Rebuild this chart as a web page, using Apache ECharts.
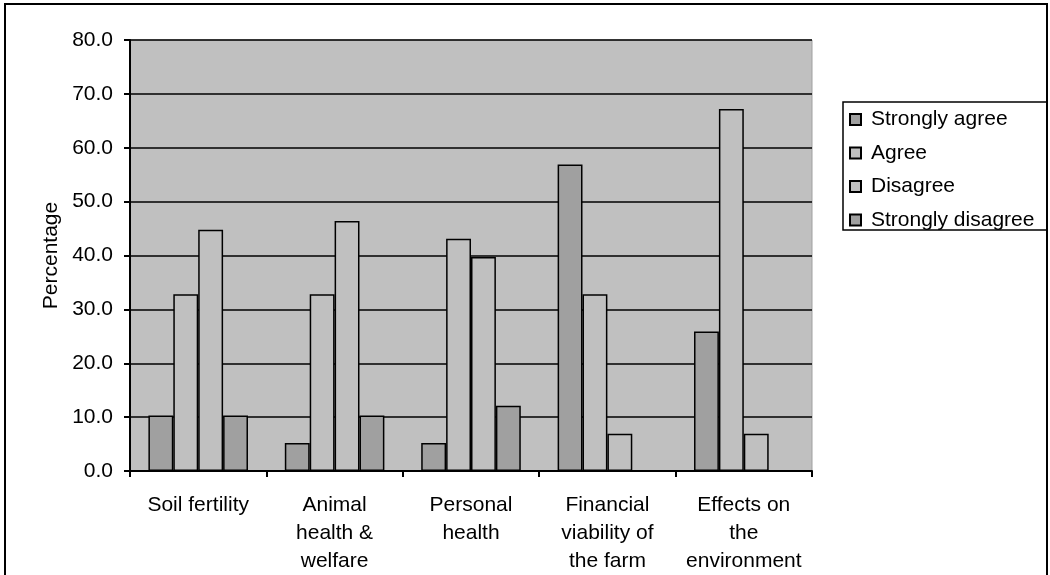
<!DOCTYPE html>
<html>
<head>
<meta charset="utf-8">
<script src="https://cdn.jsdelivr.net/npm/echarts@6/dist/echarts.min.js"></script>
<style>html,body{margin:0;padding:0;background:#fff}#c{width:1050px;height:575px}</style>
</head>
<body>
<div id="c"></div>
<script>
var categories = ['Soil fertility', 'Animal\nhealth &\nwelfare', 'Personal\nhealth', 'Financial\nviability of\nthe farm', 'Effects on\nthe\nenvironment'];
var seriesNames = ['Strongly agree', 'Agree', 'Disagree', 'Strongly disagree'];
var stronglyAgree = [10.3, 5.2, 5.2, 56.9, 25.9];
var agree = [32.8, 32.8, 43.1, 32.8, 67.2];
var disagree = [44.8, 46.4, 39.7, 6.9, 6.9];
var stronglyDisagree = [10.3, 10.3, 12.1, 0, 0];
var yTicks = {min: 0, max: 80, interval: 10};

var colors = ['#a0a0a0', '#c0c0c0', '#c0c0c0', '#a0a0a0'];
var dataArr = [stronglyAgree, agree, disagree, stronglyDisagree];
var chart = echarts.init(document.getElementById('c'), null, {renderer: 'canvas'});
var font = 'Liberation Sans, Arial, sans-serif';
var series = seriesNames.map(function (n, i) {
  return {
    name: n, type: 'bar', data: dataArr[i],
    barGap: '0%', barCategoryGap: '27%',
    itemStyle: {color: colors[i], borderColor: '#000', borderWidth: 1.5},
    emphasis: {disabled: true}
  };
});
chart.setOption({
  animation: false,
  backgroundColor: '#fff',
  textStyle: {fontFamily: font},
  graphic: [
    {type: 'rect', shape: {x: 5, y: 4, width: 1042, height: 580}, style: {fill: 'none', stroke: '#000', lineWidth: 2}, z: 100},
    {type: 'rect', shape: {x: 843, y: 102, width: 204, height: 128}, style: {fill: 'none', stroke: '#000', lineWidth: 1.5}, z: 100}
  ],
  grid: {left: 130, right: 238, top: 40, bottom: 101, show: true, backgroundColor: '#c0c0c0', borderColor: '#a0a0a0', borderWidth: 1},
  legend: {
    orient: 'vertical', left: 844, top: 104,
    itemWidth: 11, itemHeight: 11, itemGap: 12.5,
    icon: 'rect',
    textStyle: {fontSize: 21, lineHeight: 21, color: '#000', fontFamily: font, padding: [0, 0, 0, 5]},
    data: seriesNames
  },
  xAxis: {
    type: 'category', data: categories,
    axisLine: {lineStyle: {color: '#000', width: 2}},
    axisTick: {show: true, length: 6, lineStyle: {color: '#000', width: 2}},
    axisLabel: {fontSize: 21, color: '#000', lineHeight: 28, margin: 20, interval: 0, fontFamily: font}
  },
  yAxis: {
    type: 'value', min: yTicks.min, max: yTicks.max, interval: yTicks.interval,
    name: 'Percentage', nameLocation: 'middle', nameGap: 66, nameRotate: 90,
    nameTextStyle: {fontSize: 21, color: '#000', fontFamily: font},
    axisLine: {show: true, lineStyle: {color: '#000', width: 2}},
    axisTick: {show: true, length: 6, lineStyle: {color: '#000', width: 2}},
    axisLabel: {fontSize: 21, color: '#000', margin: 17, formatter: function (v) { return v.toFixed(1); }, fontFamily: font},
    splitLine: {show: true, lineStyle: {color: '#000', width: 1.5}}
  },
  series: series
});
</script>
</body>
</html>
